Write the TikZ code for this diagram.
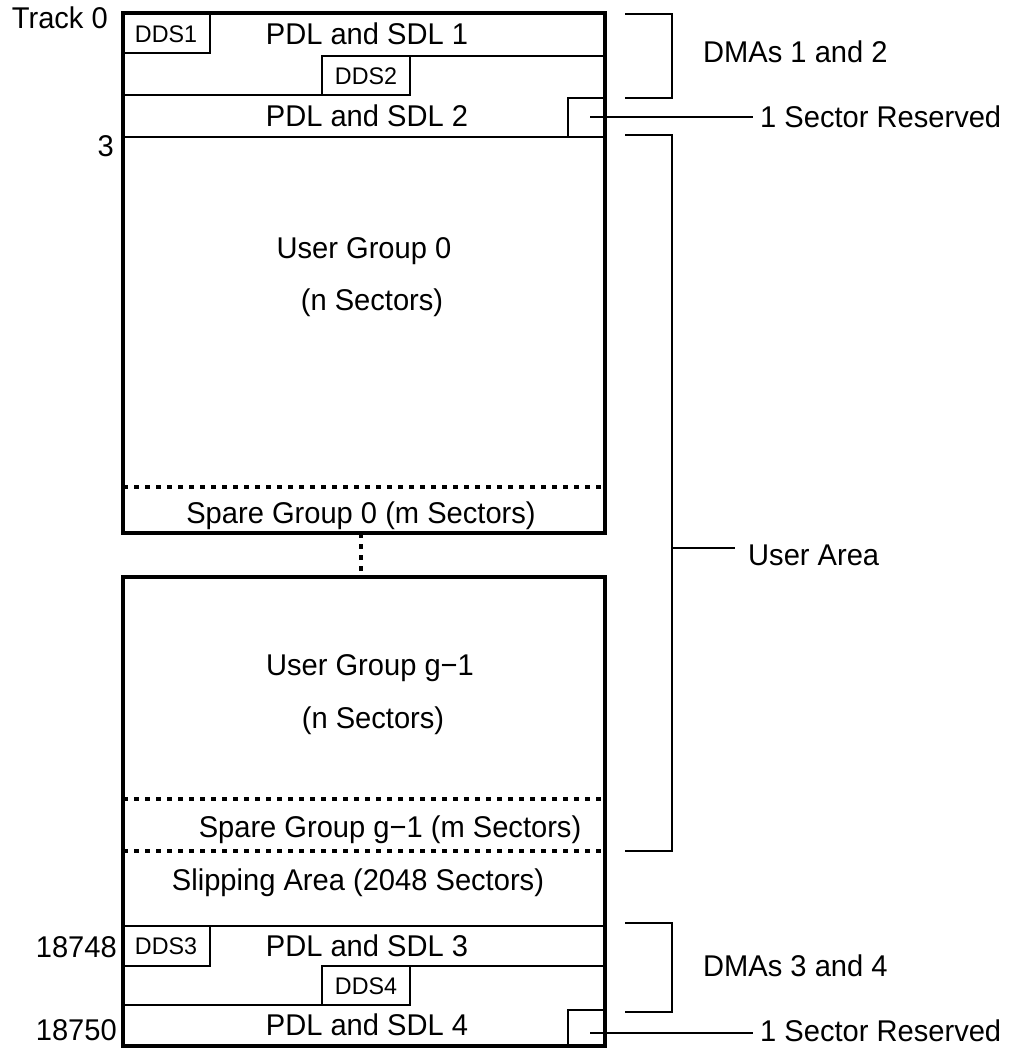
\documentclass[tikz,border=0pt]{standalone}
\usepackage{fontspec}
\setmainfont{Liberation Sans}[FakeStretch=0.97]
\begin{document}
\begin{tikzpicture}[x=1pt,y=-1pt,
  outer/.style={line width=4pt},
  thinline/.style={line width=2pt},
  dotline/.style={line width=4pt, dash pattern=on 4.5pt off 6.5pt},
  lbl/.style={font=\fontsize{30}{34}\selectfont, inner sep=0pt, anchor=base},
  smalllbl/.style={font=\fontsize{24}{28}\selectfont, inner sep=0pt, anchor=base},
  cell/.style={draw, line width=2pt, inner sep=0pt, outer sep=0pt},
]
\useasboundingbox (0,0) rectangle (1012,1048);

% ---------- top block ----------
\draw[thinline] (322,56) -- (605,56);
\draw[thinline] (123,95) -- (322,95);
\draw[thinline] (123,137) -- (605,137);
\draw[cell] (123,13) rectangle (210,53);
\draw[cell] (322,56) rectangle (410,95);
\draw[cell] (568,98) rectangle (605,137);
\coordinate (res1) at (590,117);
\draw[dotline] (123,487) -- (605,487);
\draw[outer] (123,13) rectangle (605,533);

\node[smalllbl] (dds1) at (166,42.6) {DDS1};
\node[smalllbl] (dds2) at (366,84.6) {DDS2};
\node[lbl] (pdl1) at (367,44.4) {PDL and SDL 1};
\node[lbl] (pdl2) at (367,126.4) {PDL and SDL 2};
\node[lbl] (ug0) at (364,258.4) {User Group 0};
\node[lbl] (ns0) at (372,310.4) {(n Sectors)};
\node[lbl] (sg0) at (361,523.4) {Spare Group 0 (m Sectors)};

% ---------- connector between blocks ----------
\coordinate (gapTop) at (361,533);
\coordinate (gapBot) at (361,577);
\draw[dotline] (gapTop) -- (gapBot);

% ---------- bottom block ----------
\draw[dotline] (123,799) -- (605,799);
\draw[dotline] (123,851) -- (605,851);
\draw[thinline] (123,926) -- (605,926);
\draw[thinline] (322,966) -- (605,966);
\draw[thinline] (123,1005) -- (322,1005);
\draw[cell] (123,926) rectangle (210,966);
\draw[cell] (322,966) rectangle (410,1005);
\draw[cell] (568,1010) rectangle (605,1046);
\coordinate (res2) at (590,1033);
\draw[outer] (123,577) rectangle (605,1046);

\node[lbl] (ugg) at (370,675.4) {User Group g−1};
\node[lbl] (nsg) at (373,728.4) {(n Sectors)};
\node[lbl] (sgg) at (390,837.4) {Spare Group g−1 (m Sectors)};
\node[lbl] (slip) at (358,890.4) {Slipping Area (2048 Sectors)};
\node[smalllbl] (dds3) at (166,954.6) {DDS3};
\node[smalllbl] (dds4) at (366,994.1) {DDS4};
\node[lbl] (pdl3) at (367,956.4) {PDL and SDL 3};
\node[lbl] (pdl4) at (367,1035.4) {PDL and SDL 4};

% ---------- left labels ----------
\node[lbl, anchor=base east] (t0) at (108,29) {Track 0};
\node[lbl, anchor=base east] (t3) at (114,157) {3};
\node[lbl, anchor=base east] (t18748) at (117,957) {18748};
\node[lbl, anchor=base east] (t18750) at (117,1040) {18750};

% ---------- right side ----------
\draw[thinline] (625,14) -- (672,14) -- (672,98) -- (625,98);
\node[lbl, anchor=base west] (dma12) at (703,62.4) {DMAs 1 and 2};

\node[lbl, anchor=base west] (sr1) at (760,127.4) {1 Sector Reserved};
\coordinate (sr1end) at (753,117);
\draw[thinline] (res1) -- (sr1end);

\draw[thinline] (625,135) -- (672,135) -- (672,851) -- (625,851);
\coordinate (uatick) at (672,548);
\coordinate (uaend) at (735,548);
\draw[thinline] (uatick) -- (uaend);
\node[lbl, anchor=base west] (ua) at (748,565.4) {User Area};

\draw[thinline] (625,923) -- (672,923) -- (672,1012) -- (625,1012);
\node[lbl, anchor=base west] (dma34) at (703,976.4) {DMAs 3 and 4};

\node[lbl, anchor=base west] (sr2) at (760,1041.4) {1 Sector Reserved};
\coordinate (sr2end) at (753,1033);
\draw[thinline] (res2) -- (sr2end);
\end{tikzpicture}
\end{document}
